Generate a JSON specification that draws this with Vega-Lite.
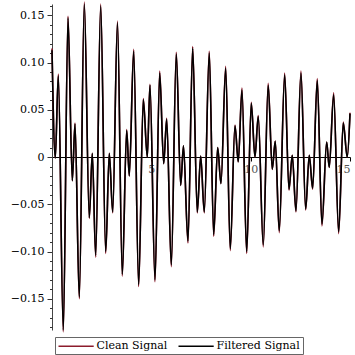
{
  "$schema": "https://vega.github.io/schema/vega-lite/v6.json",
  "autosize": {"type": "none"},
  "width": 298,
  "height": 326,
  "padding": {"left": 52, "top": 4, "right": 5, "bottom": 25},
  "config": {"view": {"stroke": null}, "font": "DejaVu Serif"},
  "datasets": {
    "filtered": [
      {"t":0,"v":0.113},{"t":0.166,"v":-0.001},{"t":0.317,"v":0.086},{"t":0.569,"v":-0.183},{"t":0.805,"v":0.147},
      {"t":1.022,"v":-0.025},{"t":1.158,"v":0.035},{"t":1.374,"v":-0.148},{"t":1.626,"v":0.162},{"t":1.877,"v":-0.064},
      {"t":2.028,"v":0.004},{"t":2.199,"v":-0.104},{"t":2.451,"v":0.160},{"t":2.703,"v":-0.100},{"t":2.884,"v":0.004},
      {"t":3.055,"v":-0.058},{"t":3.296,"v":0.142},{"t":3.538,"v":-0.124},{"t":3.759,"v":0.028},{"t":3.890,"v":-0.020},
      {"t":4.112,"v":0.112},{"t":4.363,"v":-0.135},{"t":4.595,"v":0.061},{"t":4.796,"v":0.000},{"t":4.932,"v":0.076},
      {"t":5.184,"v":-0.130},{"t":5.420,"v":0.089},{"t":5.622,"v":-0.007},{"t":5.773,"v":0.040},{"t":6.004,"v":-0.114},
      {"t":6.256,"v":0.109},{"t":6.477,"v":-0.030},{"t":6.618,"v":0.012},{"t":6.844,"v":-0.089},{"t":7.081,"v":0.115},
      {"t":7.313,"v":-0.058},{"t":7.484,"v":0.001},{"t":7.665,"v":-0.058},{"t":7.916,"v":0.110},{"t":8.138,"v":-0.082},
      {"t":8.339,"v":0.010},{"t":8.505,"v":-0.028},{"t":8.742,"v":0.094},{"t":8.973,"v":-0.097},{"t":9.210,"v":0.033},
      {"t":9.376,"v":-0.005},{"t":9.562,"v":0.071},{"t":9.799,"v":-0.100},{"t":10.030,"v":0.057},{"t":10.216,"v":0.000},
      {"t":10.382,"v":0.043},{"t":10.634,"v":-0.093},{"t":10.881,"v":0.076},{"t":11.087,"v":-0.013},{"t":11.238,"v":0.017},
      {"t":11.439,"v":-0.078},{"t":11.711,"v":0.087},{"t":11.928,"v":-0.034},{"t":12.094,"v":0.002},{"t":12.280,"v":-0.057},
      {"t":12.531,"v":0.089},{"t":12.768,"v":-0.055},{"t":12.949,"v":0.002},{"t":13.120,"v":-0.033},{"t":13.352,"v":0.081},
      {"t":13.588,"v":-0.071},{"t":13.825,"v":0.016},{"t":13.956,"v":-0.011},{"t":14.177,"v":0.066},{"t":14.429,"v":-0.079},
      {"t":14.660,"v":0.036},{"t":14.861,"v":0.000},{"t":15.0,"v":0.046}
    ],
    "clean": [
      {"t":0,"v":0.115},{"t":0.166,"v":-0.001},{"t":0.317,"v":0.088},{"t":0.569,"v":-0.185},{"t":0.805,"v":0.149},
      {"t":1.022,"v":-0.025},{"t":1.158,"v":0.036},{"t":1.374,"v":-0.150},{"t":1.626,"v":0.164},{"t":1.877,"v":-0.065},
      {"t":2.028,"v":0.004},{"t":2.199,"v":-0.106},{"t":2.451,"v":0.162},{"t":2.703,"v":-0.102},{"t":2.884,"v":0.004},
      {"t":3.055,"v":-0.059},{"t":3.296,"v":0.144},{"t":3.538,"v":-0.126},{"t":3.759,"v":0.029},{"t":3.890,"v":-0.020},
      {"t":4.112,"v":0.114},{"t":4.363,"v":-0.137},{"t":4.595,"v":0.062},{"t":4.796,"v":0.000},{"t":4.932,"v":0.077},
      {"t":5.184,"v":-0.132},{"t":5.420,"v":0.091},{"t":5.622,"v":-0.007},{"t":5.773,"v":0.041},{"t":6.004,"v":-0.116},
      {"t":6.256,"v":0.111},{"t":6.477,"v":-0.030},{"t":6.618,"v":0.012},{"t":6.844,"v":-0.091},{"t":7.081,"v":0.117},
      {"t":7.313,"v":-0.059},{"t":7.484,"v":0.001},{"t":7.665,"v":-0.059},{"t":7.916,"v":0.112},{"t":8.138,"v":-0.084},
      {"t":8.339,"v":0.010},{"t":8.505,"v":-0.028},{"t":8.742,"v":0.096},{"t":8.973,"v":-0.099},{"t":9.210,"v":0.034},
      {"t":9.376,"v":-0.005},{"t":9.562,"v":0.073},{"t":9.799,"v":-0.102},{"t":10.030,"v":0.058},{"t":10.216,"v":0.000},
      {"t":10.382,"v":0.044},{"t":10.634,"v":-0.095},{"t":10.881,"v":0.078},{"t":11.087,"v":-0.013},{"t":11.238,"v":0.017},
      {"t":11.439,"v":-0.080},{"t":11.711,"v":0.089},{"t":11.928,"v":-0.035},{"t":12.094,"v":0.002},{"t":12.280,"v":-0.058},
      {"t":12.531,"v":0.091},{"t":12.768,"v":-0.056},{"t":12.949,"v":0.002},{"t":13.120,"v":-0.034},{"t":13.352,"v":0.083},
      {"t":13.588,"v":-0.073},{"t":13.825,"v":0.016},{"t":13.956,"v":-0.011},{"t":14.177,"v":0.068},{"t":14.429,"v":-0.081},
      {"t":14.660,"v":0.037},{"t":14.861,"v":0.000},{"t":15.0,"v":0.047}
    ]
  },
  "resolve": {"axis": {"y": "independent"}},
  "layer": [
    {
      "data": {"name": "clean"},
      "transform": [{"calculate": "'Clean Signal'", "as": "series"}],
      "mark": {"type": "line", "interpolate": "monotone", "strokeWidth": 1.6},
      "encoding": {
        "x": {"field": "t", "type": "quantitative", "scale": {"domain": [0, 15], "nice": false},
          "axis": {"orient": "bottom", "offset": -173, "values": [5, 10, 15], "title": null, "grid": false,
            "tickSize": 4, "tickColor": "#000", "domainColor": "#000", "labelFontSize": 11, "labelColor": "#555",
            "labelPadding": 2, "labelFont": "DejaVu Serif"}},
        "y": {"field": "v", "type": "quantitative", "scale": {"domain": [-0.183, 0.162], "nice": false, "zero": false},
          "axis": {"orient": "left", "title": null, "grid": false,
            "values": [-0.15, -0.1, -0.05, 0, 0.05, 0.1, 0.15],
            "labelExpr": "datum.value == 0 ? '0' : format(datum.value, '.2f')",
            "labelOverlap": false, "labelFontSize": 11, "labelColor": "#000", "labelPadding": 3, "labelFont": "DejaVu Serif",
            "tickSize": 5, "tickColor": "#333", "domainColor": "#444"}},
        "color": {"field": "series", "type": "nominal",
          "scale": {"domain": ["Clean Signal", "Filtered Signal"], "range": ["#8c1c2c", "#000000"]},
          "legend": {"orient": "none", "legendX": 3, "legendY": 333, "direction": "horizontal", "title": null,
            "symbolType": "M-1,0H5.4", "symbolSize": 121, "symbolStrokeWidth": 1.5, "labelFontSize": 11,
            "labelFont": "DejaVu Serif", "labelColor": "#000", "strokeColor": "#666", "padding": 2.5,
            "columnPadding": 8, "labelOffset": 26, "fillColor": "#fff"}}
      }
    },
    {
      "data": {"name": "filtered"},
      "transform": [{"calculate": "'Filtered Signal'", "as": "series"}],
      "mark": {"type": "line", "interpolate": "monotone", "strokeWidth": 1.6},
      "encoding": {
        "x": {"field": "t", "type": "quantitative"},
        "y": {"field": "v", "type": "quantitative",
          "axis": {"orient": "left", "title": null, "grid": false, "labels": false, "domain": false,
            "values": [-0.18,-0.17,-0.16,-0.14,-0.13,-0.12,-0.11,-0.09,-0.08,-0.07,-0.06,-0.04,-0.03,-0.02,-0.01,0.01,0.02,0.03,0.04,0.06,0.07,0.08,0.09,0.11,0.12,0.13,0.14,0.16],
            "tickSize": 2.5, "tickColor": "#333"}},
        "color": {"field": "series", "type": "nominal"}
      }
    }
  ]
}
